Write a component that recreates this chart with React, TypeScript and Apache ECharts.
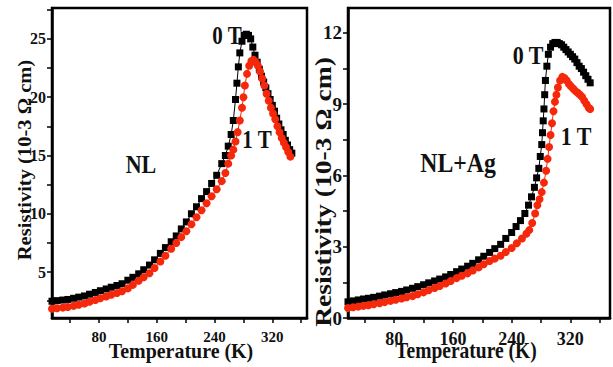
import React, { useEffect, useRef } from "react";
import * as echarts from "echarts";

// ---------- Left panel (NL) ----------
const nlT0 = [15,22,30,37,45,52,60,67,75,82,90,97,105,112,120,127,135,142,150,157,165,172,180,187,194,201,208,215,222,229,236,243,250,255,259,263,266,269,271,273,275,278,281,284,287,290,293,296,299,302,305,308,311,314,317,320,323,326,329,332,335,338,341,344,347];
const nlR0 = [2.5,2.55,2.6,2.65,2.75,2.85,2.95,3.1,3.25,3.4,3.55,3.7,3.85,4.0,4.3,4.55,4.85,5.2,5.6,6.05,6.6,7.1,7.6,8.1,8.7,9.3,10.0,10.6,11.3,11.9,12.6,13.3,14.3,15.0,15.8,16.8,18.0,19.8,21.2,22.6,23.8,24.8,25.3,25.4,25.3,25.0,24.3,23.6,23.0,22.4,21.8,21.3,20.8,20.3,19.8,19.3,18.8,18.2,17.7,17.2,16.8,16.3,15.9,15.5,15.2];
const nlT1 = [15,22,30,37,45,52,60,67,75,82,90,97,105,112,120,127,135,142,150,157,165,172,180,187,194,201,208,215,222,229,236,243,250,255,259,263,266,269,272,275,278,280,282,285,288,291,294,297,300,303,306,309,312,315,318,321,324,327,330,333,336,339,342,345];
const nlR1 = [1.85,1.9,1.95,2.0,2.1,2.2,2.3,2.45,2.6,2.75,2.9,3.05,3.2,3.35,3.6,3.9,4.25,4.55,4.9,5.35,5.9,6.4,7.0,7.5,8.0,8.5,9.1,9.7,10.3,10.9,11.5,12.1,12.8,13.5,14.3,15.0,15.5,16.2,17.0,18.0,19.1,20.0,21.0,22.0,22.7,23.1,23.2,23.0,22.7,22.2,21.6,21.0,20.3,19.7,19.1,18.6,18.1,17.5,17.0,16.5,16.1,15.7,15.3,14.9];

// ---------- Right panel (NL+Ag) ----------
const agT0 = [17,24,31,38,45,52,60,67,75,82,90,97,105,112,120,127,135,142,150,157,165,172,180,187,195,202,210,217,225,232,240,246,252,258,263,267,271,274,277,279,281,282,283,284,285,286,288,290,293,296,299,302,305,308,311,314,317,320,323,326,329,332,335,338,341,344,347];
const agR0 = [0.68,0.72,0.76,0.8,0.83,0.87,0.92,0.97,1.02,1.07,1.12,1.18,1.25,1.32,1.4,1.48,1.56,1.64,1.73,1.83,1.95,2.06,2.18,2.3,2.45,2.6,2.76,2.92,3.1,3.35,3.6,3.85,4.1,4.4,4.75,5.1,5.5,5.9,6.3,6.8,7.3,7.8,8.3,8.8,9.4,10.0,10.6,11.1,11.4,11.55,11.6,11.6,11.55,11.5,11.4,11.3,11.2,11.1,11.0,10.9,10.75,10.6,10.5,10.35,10.2,10.05,9.9];
const agT1 = [17,24,31,38,45,52,60,67,75,82,90,97,105,112,120,127,135,142,150,157,165,172,180,187,195,202,210,217,225,232,240,247,254,260,264,268,272,275,278,281,284,287,289,291,293,295,297,299,301,303,306,309,312,315,318,321,324,327,330,333,336,339,342,345,347];
const agR1 = [0.42,0.45,0.48,0.51,0.54,0.58,0.62,0.67,0.72,0.77,0.82,0.87,0.92,1.0,1.08,1.17,1.26,1.35,1.45,1.56,1.68,1.78,1.88,2.0,2.13,2.26,2.4,2.5,2.62,2.78,2.95,3.15,3.35,3.55,3.7,4.0,4.4,4.75,5.0,5.3,5.7,6.2,6.7,7.2,7.7,8.2,8.7,9.1,9.4,9.7,10.0,10.15,10.1,10.0,9.85,9.75,9.65,9.55,9.48,9.4,9.3,9.15,9.0,8.85,8.8];

// ---------- Ticks ----------
const xTicks = [40, 80, 120, 160, 200, 240, 280, 320, 360];
const xLabels = [80, 160, 240, 320];
const nlYTicks = [2.5, 5, 7.5, 10, 12.5, 15, 17.5, 20, 22.5, 25, 27.5];
const nlYLabels = [5, 10, 15, 20, 25];
const agYTicks = [0, 1.5, 3, 4.5, 6, 7.5, 9, 10.5, 12];
const agYLabels = [0, 3, 6, 9, 12];

const FONT = "'Liberation Serif', 'Times New Roman', serif";
const RED = "#f5280c";

const zip = (a: number[], b: number[]) => a.map((v, i) => [v, b[i]]);

export default function App() {
  const ref = useRef<HTMLDivElement>(null);
  useEffect(() => {
    if (!ref.current) return;
    const chart = echarts.init(ref.current, null, { renderer: "svg" });
    const xAxisBase = (idx: number, min: number, max: number, fs: number, margin: number) => ({
      type: "value",
      gridIndex: idx,
      min,
      max,
      axisLine: { show: true, lineStyle: { color: "#000", width: 2.5 } },
      axisTick: { show: true, customValues: xTicks, length: 5, inside: false, lineStyle: { color: "#000", width: 1.5 } },
      axisLabel: { customValues: xLabels, fontFamily: FONT, fontWeight: "bold", fontSize: fs, color: "#111", margin },
      splitLine: { show: false },
    });
    const yAxisBase = (idx: number, min: number, max: number, ticks: number[], labels: number[], fs: number) => ({
      type: "value",
      gridIndex: idx,
      min,
      max,
      axisLine: { show: true, lineStyle: { color: "#000", width: 2.5 } },
      axisTick: { show: true, customValues: ticks, length: 5, inside: false, lineStyle: { color: "#000", width: 1.5 } },
      axisLabel: { customValues: labels, fontFamily: FONT, fontWeight: "bold", fontSize: fs, color: "#111", margin: 6 },
      splitLine: { show: false },
    });
    const txt = (text: string, x: number, y: number, fs: number, opts: any = {}) => ({
      type: "text",
      x,
      y,
      rotation: opts.rotation || 0,
      scaleX: opts.sx || 1,
      scaleY: opts.sy || 1,
      z: 100,
      style: {
        text,
        font: `bold ${fs}px ${FONT}`,
        fill: "#111",
        align: "center",
        verticalAlign: "middle",
        textAlign: "center",
        textVerticalAlign: "middle",
      },
    });
    chart.setOption({
      animation: false,
      backgroundColor: "#fff",
      grid: [
        { left: 52, top: 8, width: 255, height: 310, show: true, borderColor: "#000", borderWidth: 2.5, backgroundColor: "transparent" },
        { left: 348, top: 8, width: 262, height: 310, show: true, borderColor: "#000", borderWidth: 2.5, backgroundColor: "transparent" },
      ],
      xAxis: [xAxisBase(0, 15, 368, 15, 11), xAxisBase(1, 17, 374, 18, 12)],
      yAxis: [
        yAxisBase(0, 1.06, 27.65, nlYTicks, nlYLabels, 16),
        yAxisBase(1, 0, 13.05, agYTicks, agYLabels, 19),
      ],
      series: [
        {
          type: "line", xAxisIndex: 0, yAxisIndex: 0, data: zip(nlT0, nlR0),
          symbol: "rect", symbolSize: 7, showSymbol: true,
          itemStyle: { color: "#000" }, lineStyle: { color: "#000", width: 1 },
        },
        {
          type: "line", xAxisIndex: 0, yAxisIndex: 0, data: zip(nlT1, nlR1),
          symbol: "circle", symbolSize: 8, showSymbol: true,
          itemStyle: { color: RED }, lineStyle: { color: RED, width: 1 },
        },
        {
          type: "line", xAxisIndex: 1, yAxisIndex: 1, data: zip(agT0, agR0),
          symbol: "rect", symbolSize: 7, showSymbol: true,
          itemStyle: { color: "#000" }, lineStyle: { color: "#000", width: 1 },
        },
        {
          type: "line", xAxisIndex: 1, yAxisIndex: 1, data: zip(agT1, agR1),
          symbol: "circle", symbolSize: 8, showSymbol: true,
          itemStyle: { color: RED }, lineStyle: { color: RED, width: 1 },
        },
      ],
      graphic: [
        txt("Resistivity (10-3 Ω cm)", 24, 160, 19, { rotation: Math.PI / 2, sx: 1.08 }),
        txt("Resistivity (10-3 Ω cm)", 323, 192, 24, { rotation: Math.PI / 2, sx: 1.15 }),
        txt("Temperature (K)", 181, 351, 19, { sx: 1.05, sy: 1.05 }),
        txt("Temperature (K)", 466, 350, 21, { sx: 0.93, sy: 1.12 }),
        txt("0 T", 227, 36, 21, { sy: 1.15 }),
        txt("1 T", 257, 140, 21, { sy: 1.15 }),
        txt("NL", 141, 164, 22, { sy: 1.15 }),
        txt("0 T", 528, 56, 22, { sy: 1.1 }),
        txt("1 T", 576, 137, 22, { sy: 1.1 }),
        txt("NL+Ag", 458, 163, 25, { sx: 0.95, sy: 1.1 }),
      ],
    });
    return () => chart.dispose();
  }, []);
  return (
    <div
      ref={ref}
      style={{ position: "absolute", left: 0, top: 0, width: 613, height: 367 }}
    />
  );
}
